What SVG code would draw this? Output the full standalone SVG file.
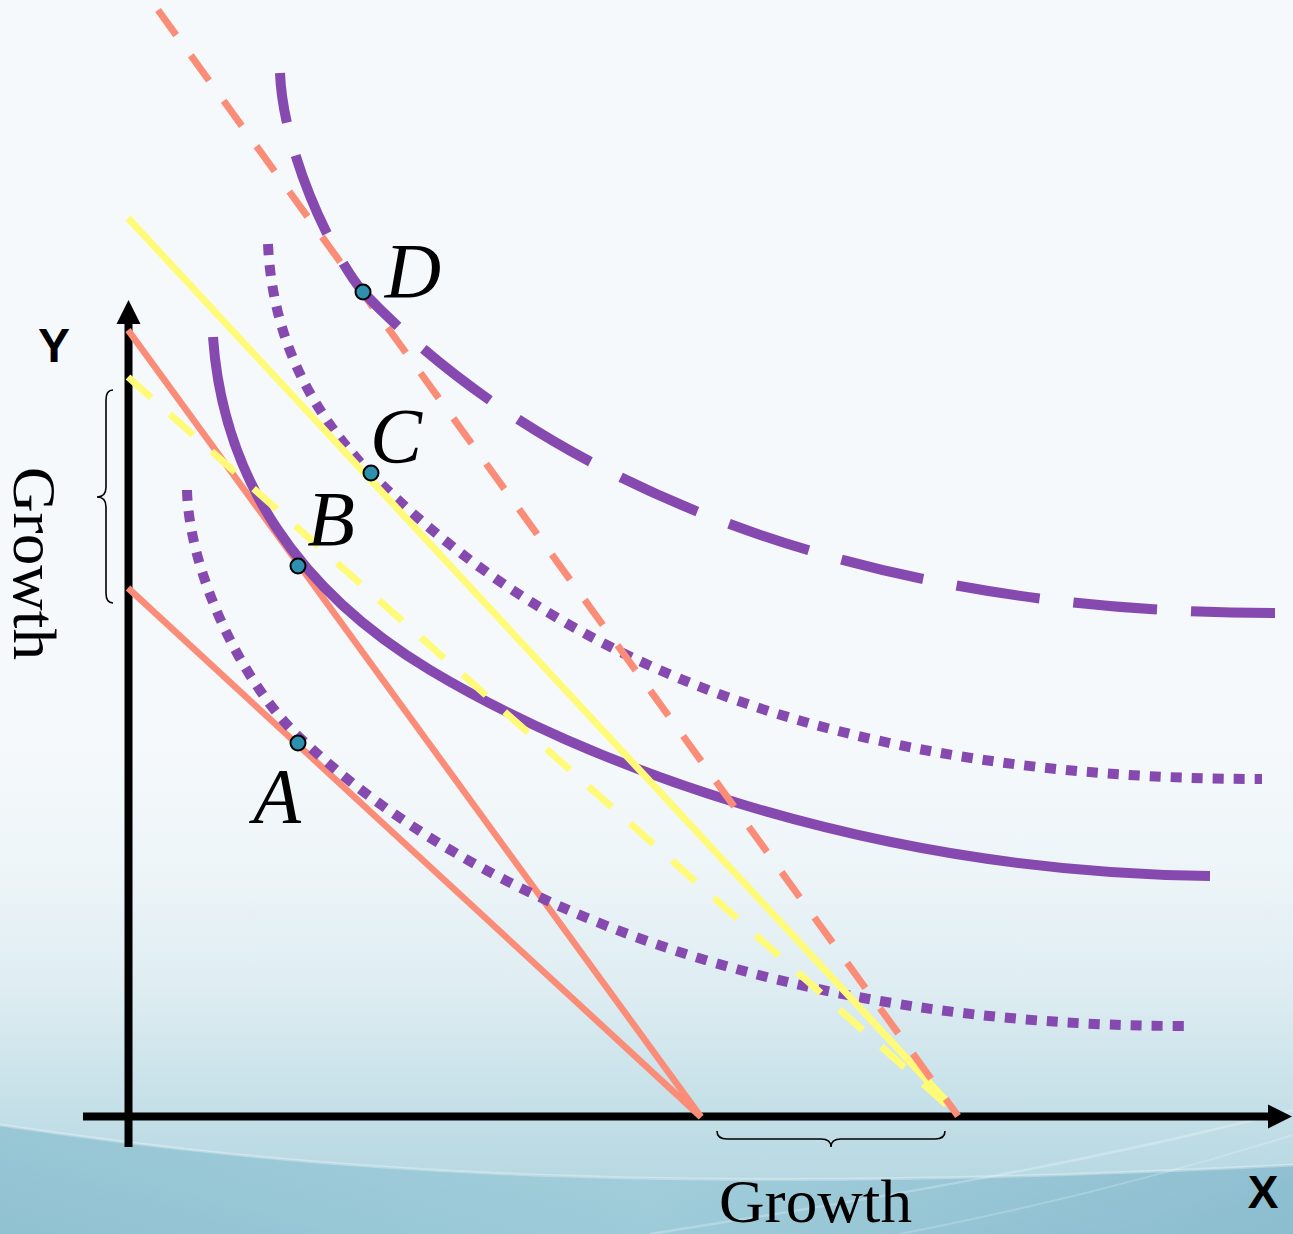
<svg xmlns="http://www.w3.org/2000/svg" width="1293" height="1234" viewBox="0 0 1293 1234">
<defs>
<linearGradient id="bg" x1="0" y1="0" x2="0" y2="1">
<stop offset="0" stop-color="#F6F9FC"/>
<stop offset="0.6" stop-color="#F5F9FB"/>
<stop offset="0.7" stop-color="#EEF5F8"/>
<stop offset="0.8" stop-color="#DEEDF2"/>
<stop offset="0.88" stop-color="#C9E2EA"/>
<stop offset="1" stop-color="#ADD2DE"/>
</linearGradient>
<linearGradient id="wave" x1="0" y1="0" x2="1" y2="0">
<stop offset="0" stop-color="#7DB7CA"/>
<stop offset="0.5" stop-color="#93C6D5"/>
<stop offset="1" stop-color="#74AFC5"/>
</linearGradient>
<style>
.ax{stroke:#000;stroke-width:8;fill:none}
.ah{fill:#000}
.sal{stroke:#FA8C78;stroke-width:6.5;fill:none}
.saldash{stroke:#FA8C78;stroke-width:7;fill:none;stroke-dasharray:31 25}
.yel{stroke:#FFFB78;stroke-width:7;fill:none}
.yeldash{stroke:#FFFB78;stroke-width:7;fill:none;stroke-dasharray:31 25}
.pur{stroke:#8549B0;stroke-width:10;fill:none}
.dot{stroke-dasharray:11 10}
.ldash{stroke-dasharray:84 34}
.brace{stroke:#000;stroke-width:1.6;fill:none}
.pt{fill:#2F8FAF;stroke:#000;stroke-width:2}
.lbl{font-family:"Liberation Serif",serif;font-style:italic;font-size:78px;fill:#000}
.gr{font-family:"Liberation Serif",serif;font-size:62px;fill:#000}
.axl{font-family:"Liberation Sans",Arial,sans-serif;font-weight:bold;fill:#000}
</style>
</defs>
<g id="background">
<rect x="0" y="0" width="1293" height="1234" fill="url(#bg)"/>
<path d="M0,1125 C300,1170 650,1198 1293,1165 L1293,1234 L0,1234 Z" fill="url(#wave)" opacity="0.6"/>
<path d="M0,1125 C300,1170 650,1198 1293,1165" stroke="#FFFFFF" stroke-width="3" fill="none" opacity="0.3"/>
<path d="M650,1234 C900,1195 1100,1160 1293,1110" stroke="#FFFFFF" stroke-width="2.5" fill="none" opacity="0.25"/>
<path d="M900,1234 C1050,1205 1180,1170 1293,1135" stroke="#FFFFFF" stroke-width="2" fill="none" opacity="0.2"/>
</g>
<g id="axes">
<line class="ax" x1="83" y1="1116.5" x2="1270" y2="1116.5"/>
<polygon class="ah" points="1292,1116.5 1268,1104.5 1268,1128.5"/>
<line class="ax" x1="128.5" y1="1147" x2="128.5" y2="320"/>
<polygon class="ah" points="128.5,300 116.5,324 140.5,324"/>
</g>
<g id="connectors">
<line id="budget-1" class="sal" x1="128" y1="588" x2="701" y2="1117"/>
<line id="budget-2" class="sal" x1="128" y1="330" x2="701" y2="1117"/>
<path id="curve-1" class="pur dot" d="M187,490 C189,570 240,680 298,736 C478,907 785,1026 1185,1026"/>
<path id="curve-2" class="pur" d="M213,337 C223,480 300,592 430,670 C580,760 860,872 1210,876"/>
<path id="curve-3" class="pur dot" d="M268,244 C273,354 325,426 372,475 C562,665 842,779 1262,779"/>
<line id="budget-3" class="yeldash" x1="128" y1="377" x2="948" y2="1106"/>
<line id="budget-4" class="yel" x1="128" y1="218" x2="950" y2="1105"/>
<line id="budget-5" class="saldash" x1="158" y1="10" x2="958" y2="1116"/>
<path id="curve-4" class="pur ldash" d="M1275,613 C825,613 528,465 363,292 C330,252 283,150 280,73"/>
</g>
<g id="growth-x">
<path class="brace" d="M717,1131 Q717,1139 727,1139 L821,1139 Q831,1139 831,1147 Q831,1139 841,1139 L935,1139 Q945,1139 945,1131"/>
<text class="gr" x="719" y="1222" textLength="193" lengthAdjust="spacingAndGlyphs">Growth</text>
</g>
<g id="growth-y">
<path class="brace" d="M113,390 Q106,390 106,400 L106,487 Q106,497 97,497 Q106,497 106,507 L106,593 Q106,603 113,603"/>
<text class="gr" transform="translate(14,467) rotate(90)" x="0" y="0" textLength="193" lengthAdjust="spacingAndGlyphs">Growth</text>
</g>
<g id="label-x"><text class="axl" x="1263" y="1208" font-size="46" text-anchor="middle">X</text></g>
<g id="label-y"><text class="axl" x="54" y="362" font-size="48" text-anchor="middle">Y</text></g>
<g id="point-A">
<circle class="pt" cx="298" cy="743" r="7.5"/>
<text class="lbl" x="277" y="822" text-anchor="middle">A</text>
</g>
<g id="point-B">
<circle class="pt" cx="298" cy="566" r="7.5"/>
<text class="lbl" x="331" y="545" text-anchor="middle">B</text>
</g>
<g id="point-C">
<circle class="pt" cx="371" cy="473" r="7.5"/>
<text class="lbl" x="396" y="462" text-anchor="middle">C</text>
</g>
<g id="point-D">
<circle class="pt" cx="363" cy="292" r="7.5"/>
<text class="lbl" x="413" y="297" text-anchor="middle">D</text>
</g>
</svg>
